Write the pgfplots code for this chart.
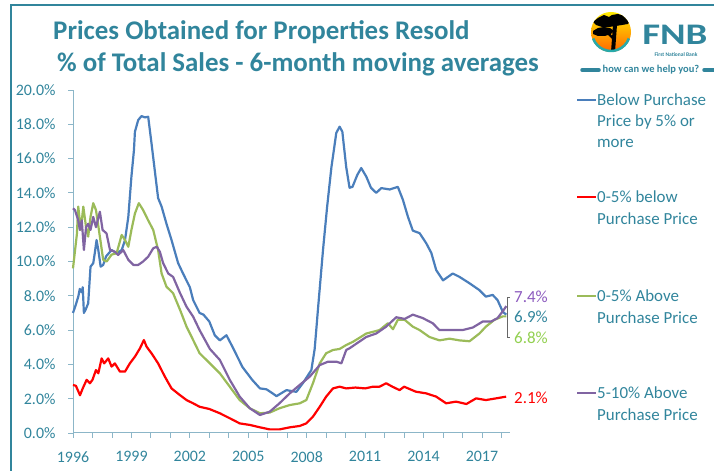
\documentclass[border=0pt]{standalone}
\usepackage{fontspec}
\setmainfont{Carlito}
\usepackage{pgfplots}
\pgfplotsset{compat=1.18}
\definecolor{teal1}{RGB}{49,133,156}
\definecolor{axisc}{RGB}{140,182,200}
\definecolor{sblue}{RGB}{74,126,187}
\definecolor{sred}{RGB}{255,0,0}
\definecolor{sgreen}{RGB}{155,187,89}
\definecolor{spurple}{RGB}{128,100,162}
\definecolor{lgreen}{RGB}{146,208,80}
\definecolor{lpurple}{RGB}{140,90,190}
\definecolor{ringteal}{RGB}{40,170,170}
\begin{document}
\begin{tikzpicture}
\begin{scope}[x=1bp,y=1bp]
\path[use as bounding box] (0,0) rectangle (714,471);
% frame
\draw[teal1, line width=1.6bp] (11,0) -- (11,466) -- (714,466);
% title
\node[anchor=base west, text=teal1, font=\fontsize{27}{30}\selectfont\bfseries, inner sep=0] at (53,431) {Prices Obtained for Properties Resold};
\node[anchor=base west, text=teal1, font=\fontsize{27}{30}\selectfont\bfseries, inner sep=0] at (57,399) {\% of Total Sales - 6-month moving averages};
% logo
\begin{scope}
\clip (611,439) circle (20);
\shade[top color=yellow!85!orange, bottom color=orange!80!red] (591,419) rectangle (631,459);
\fill[black] (593,449) -- (598,453) -- (604,456) -- (609,454) -- (612,456) -- (618,457) -- (624,455) -- (630,451) -- (628,447) -- (622,446) -- (616,445) -- (609,444) -- (602,444) -- (596,446) -- cycle;
\fill[black] (593,440) -- (598,443) -- (604,444) -- (610,443) -- (614,440) -- (611,437) -- (605,435) -- (598,435) -- (593,437) -- cycle;
\fill[black] (613,446) -- (617,446) -- (615,419) -- (611,419) -- cycle;
\fill[black] (606,438) -- (608,440) -- (614,433) -- (613,431) -- cycle;
\end{scope}
\draw[ringteal, line width=2.5bp] (611,439) ++(200:19) arc (200:340:19);
\node[anchor=base west, text=teal1, font=\fontsize{30}{30}\selectfont\bfseries, inner sep=0, xscale=1.3] at (642,426) {FNB};
\node[anchor=base, text=teal1, font=\fontsize{5.5}{6}\selectfont\bfseries, inner sep=0] at (676,414) {First National Bank};
\node[text=teal1, font=\fontsize{10.5}{11}\selectfont\bfseries, inner sep=0] at (651,401) {how can we help you?};
\draw[teal1, line width=3.5bp, line cap=round] (582,401) -- (599,401);
\draw[teal1, line width=3.5bp, line cap=round] (704,401) -- (714,401);
% end labels
\draw[black!60, line width=0.8bp] (510,174) -- (507,174) -- (507,134) -- (510,134);
\node[anchor=west, text=lpurple, font=\fontsize{17}{20}\selectfont, inner sep=0] at (514,174) {7.4\%};
\node[anchor=west, text=teal1, font=\fontsize{17}{20}\selectfont, inner sep=0] at (514,154) {6.9\%};
\node[anchor=west, text=lgreen, font=\fontsize{17}{20}\selectfont, inner sep=0] at (514,133) {6.8\%};
\node[anchor=west, text=sred, font=\fontsize{17}{20}\selectfont, inner sep=0] at (514,73) {2.1\%};
% legend
\tikzset{legtxt/.style={anchor=west, text=teal1, font=\fontsize{17}{20}\selectfont, inner sep=0}}
\draw[sblue, line width=2.2bp] (577,371) -- (596,371);
\node[legtxt] at (597,371) {Below Purchase};
\node[legtxt] at (597,349.5) {Price by 5\% or};
\node[legtxt] at (597,328) {more};
\draw[sred, line width=2.2bp] (577,274) -- (596,274);
\node[legtxt] at (597,274) {0-5\% below};
\node[legtxt] at (597,252.5) {Purchase Price};
\draw[sgreen, line width=2.2bp] (577,175) -- (596,175);
\node[legtxt] at (597,175) {0-5\% Above};
\node[legtxt] at (597,153.5) {Purchase Price};
\draw[spurple, line width=2.2bp] (577,78) -- (596,78);
\node[legtxt] at (597,78) {5-10\% Above};
\node[legtxt] at (597,56.5) {Purchase Price};
\end{scope}
\begin{axis}[
  at={(73bp,38bp)}, anchor=south west,
  scale only axis, width=437bp, height=343bp,
  xmin=1996, xmax=2018.44, ymin=0, ymax=20,
  axis x line*=bottom, axis y line*=left,
  axis line style={axisc, line width=1bp},
  xtick={1996,1999,...,2017},
  minor xtick={1997,1998,...,2018},
  ytick={0,2,...,20},
  tick align=outside,
  major tick length=5bp, minor tick length=5bp,
  tick style={axisc, line width=0.8bp},
  /pgf/number format/assume math mode=true,
  /pgf/number format/1000 sep={},
  xticklabel style={font=\fontsize{16}{19}\selectfont, text=teal1, yshift=-10bp},
  yticklabel style={font=\fontsize{16}{19}\selectfont, text=teal1, xshift=-9bp},
  yticklabel={\pgfmathprintnumber[fixed,fixed zerofill,precision=1]{\tick}\%},
  clip=false,
  every axis plot/.append style={line width=2.2bp, line join=round, mark=none},
]
\addplot[sblue] coordinates {
(1996.0,7.0)(1996.15,7.5)(1996.27,7.95)(1996.35,8.4)(1996.45,8.2)(1996.5,8.5)(1996.56,7.0)(1996.65,7.2)(1996.78,7.56)(1996.9,9.7)(1997.04,9.9)(1997.12,10.5)(1997.21,11.25)(1997.3,10.67)(1997.42,9.7)(1997.55,9.8)(1997.7,10.3)(1997.98,10.67)(1998.24,10.48)(1998.5,10.67)(1998.67,11.25)(1998.84,12.6)(1999.0,14.95)(1999.13,16.5)(1999.18,17.57)(1999.35,18.25)(1999.52,18.48)(1999.69,18.4)(1999.86,18.44)(2000.03,16.9)(2000.2,15.3)(2000.37,13.7)(2000.55,13.2)(2000.8,12.2)(2001.06,11.25)(2001.4,9.9)(2001.65,9.3)(2002.0,8.5)(2002.17,7.75)(2002.5,7.0)(2002.7,6.9)(2003.0,6.5)(2003.28,5.7)(2003.54,5.4)(2003.88,5.7)(2004.2,5.0)(2004.7,3.85)(2005.2,3.1)(2005.6,2.6)(2005.93,2.55)(2006.2,2.35)(2006.45,2.15)(2006.96,2.5)(2007.2,2.45)(2007.47,2.4)(2007.8,2.9)(2008.24,3.67)(2008.41,4.9)(2008.6,7.5)(2008.84,10.7)(2009.05,13.2)(2009.27,15.5)(2009.52,17.5)(2009.69,17.86)(2009.83,17.57)(2010.03,15.5)(2010.2,14.3)(2010.35,14.35)(2010.6,15.05)(2010.8,15.45)(2011.06,14.95)(2011.3,14.3)(2011.57,14.0)(2011.83,14.28)(2012.26,14.2)(2012.68,14.35)(2012.94,13.6)(2013.2,12.6)(2013.45,11.8)(2013.8,11.65)(2014.14,11.06)(2014.4,10.5)(2014.65,9.5)(2015.0,8.9)(2015.5,9.3)(2015.85,9.1)(2016.36,8.73)(2016.87,8.33)(2017.2,7.95)(2017.55,8.05)(2017.8,7.75)(2018.07,7.07)(2018.25,6.9)
};
\addplot[sred] coordinates {
(1996.0,2.8)(1996.15,2.75)(1996.36,2.2)(1996.5,2.6)(1996.7,3.1)(1996.87,2.9)(1997.0,3.1)(1997.18,3.67)(1997.3,3.48)(1997.47,4.35)(1997.6,4.06)(1997.81,4.35)(1997.98,3.87)(1998.15,4.06)(1998.41,3.58)(1998.67,3.58)(1998.92,4.06)(1999.18,4.45)(1999.44,4.94)(1999.64,5.42)(1999.78,5.03)(2000.03,4.65)(2000.37,4.06)(2000.72,3.28)(2001.06,2.6)(2001.5,2.2)(2001.83,1.92)(2002.17,1.73)(2002.5,1.53)(2003.0,1.4)(2003.54,1.15)(2004.05,0.86)(2004.56,0.56)(2005.08,0.47)(2005.6,0.33)(2006.1,0.21)(2006.6,0.21)(2007.13,0.33)(2007.64,0.41)(2007.98,0.56)(2008.32,0.95)(2008.67,1.53)(2009.0,2.12)(2009.35,2.6)(2009.69,2.7)(2010.03,2.6)(2010.5,2.65)(2011.0,2.6)(2011.4,2.7)(2011.74,2.7)(2012.08,2.9)(2012.4,2.7)(2012.77,2.5)(2013.0,2.7)(2013.6,2.41)(2014.14,2.31)(2014.65,2.12)(2015.16,1.73)(2015.67,1.83)(2016.2,1.69)(2016.7,2.02)(2017.2,1.92)(2017.73,2.02)(2018.24,2.12)
};
\addplot[sgreen] coordinates {
(1996.0,9.6)(1996.2,11.6)(1996.27,13.2)(1996.4,11.84)(1996.53,13.2)(1996.67,12.0)(1996.78,11.45)(1996.9,12.6)(1997.04,13.4)(1997.18,13.0)(1997.38,11.45)(1997.55,10.1)(1997.73,10.0)(1997.98,10.4)(1998.24,10.48)(1998.5,11.55)(1998.67,11.25)(1998.84,10.86)(1999.0,11.84)(1999.18,12.8)(1999.38,13.4)(1999.6,13.0)(1999.86,12.4)(2000.12,11.84)(2000.37,10.67)(2000.55,9.3)(2000.8,8.53)(2001.14,8.15)(2001.5,7.17)(2001.83,6.2)(2002.17,5.42)(2002.5,4.65)(2003.03,4.06)(2003.54,3.48)(2004.05,2.7)(2004.56,1.92)(2005.08,1.44)(2005.6,1.15)(2006.1,1.19)(2006.6,1.44)(2007.13,1.63)(2007.64,1.73)(2007.98,1.92)(2008.32,2.9)(2008.67,4.06)(2009.0,4.65)(2009.35,4.84)(2009.69,4.9)(2010.03,5.13)(2010.38,5.32)(2011.06,5.8)(2011.74,6.0)(2012.17,6.4)(2012.43,6.05)(2012.68,6.6)(2013.03,6.6)(2013.45,6.2)(2013.8,6.0)(2014.3,5.6)(2014.82,5.4)(2015.33,5.5)(2015.85,5.4)(2016.36,5.35)(2016.87,5.8)(2017.2,6.2)(2017.64,6.6)(2018.07,6.8)(2018.25,6.8)
};
\addplot[spurple] coordinates {
(1996.0,13.1)(1996.1,13.0)(1996.27,12.4)(1996.35,11.84)(1996.45,12.4)(1996.56,10.67)(1996.67,12.0)(1996.78,12.2)(1996.9,11.84)(1997.04,12.6)(1997.18,12.0)(1997.38,12.9)(1997.52,11.84)(1997.72,11.64)(1997.9,10.67)(1998.15,10.57)(1998.32,10.38)(1998.58,10.67)(1998.84,10.1)(1999.1,9.8)(1999.35,9.8)(1999.6,10.0)(1999.86,10.28)(2000.12,10.77)(2000.3,10.86)(2000.46,10.57)(2000.63,9.9)(2000.89,9.3)(2001.14,9.1)(2001.5,8.15)(2001.83,7.36)(2002.17,6.78)(2002.5,6.0)(2003.03,4.9)(2003.54,4.26)(2004.05,3.1)(2004.56,2.12)(2005.08,1.44)(2005.6,1.05)(2006.1,1.24)(2006.6,1.73)(2007.13,2.31)(2007.64,2.8)(2008.15,3.28)(2008.67,3.96)(2009.1,4.16)(2009.52,4.16)(2009.78,4.06)(2010.03,4.84)(2010.2,4.94)(2011.06,5.6)(2011.57,5.8)(2012.08,6.2)(2012.6,6.75)(2013.03,6.65)(2013.45,6.9)(2013.96,6.7)(2014.47,6.4)(2014.82,6.0)(2015.5,6.0)(2016.0,6.0)(2016.53,6.15)(2017.04,6.5)(2017.47,6.5)(2017.8,6.7)(2018.07,7.1)(2018.25,7.4)
};
\end{axis}
\end{tikzpicture}
\end{document}
